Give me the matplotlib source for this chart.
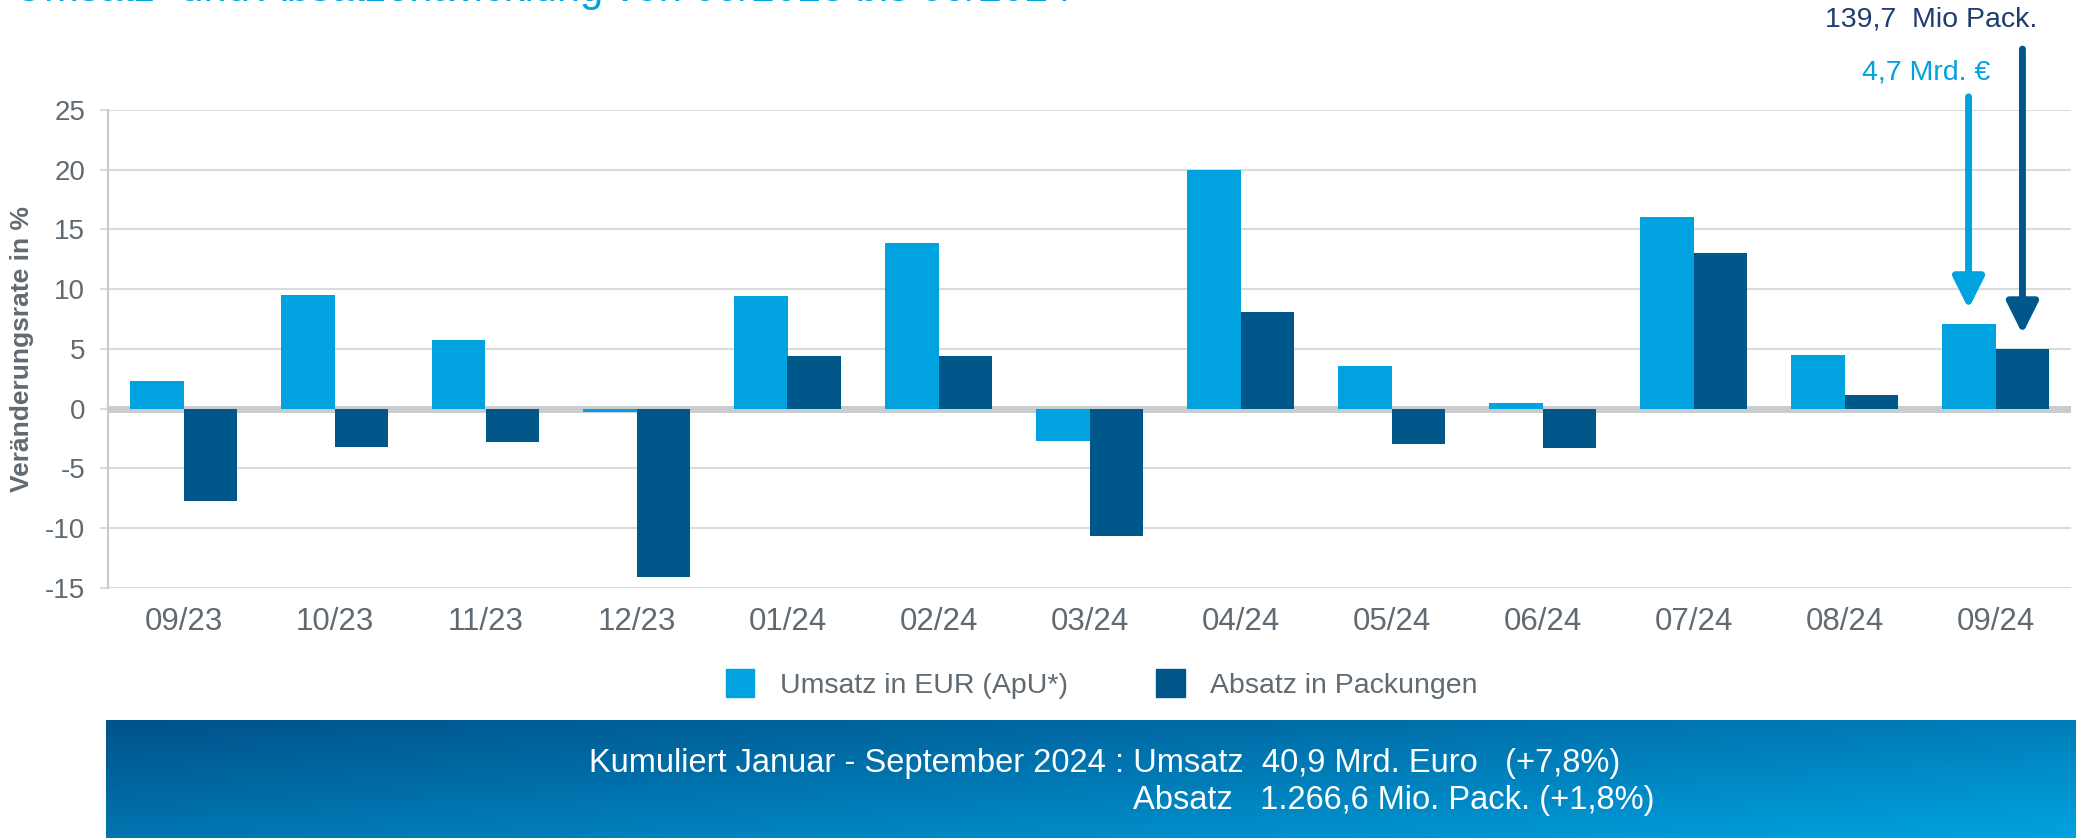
import numpy as np
import matplotlib
matplotlib.use("Agg")
import matplotlib.pyplot as plt
from matplotlib.colors import LinearSegmentedColormap
from matplotlib.patches import Patch

plt.rcParams["font.family"] = ["Liberation Sans", "DejaVu Sans"]

# data
months = ["09/23", "10/23", "11/23", "12/23", "01/24", "02/24", "03/24",
          "04/24", "05/24", "06/24", "07/24", "08/24", "09/24"]
umsatz = [2.3, 9.5, 5.7, -0.3, 9.4, 13.9, -2.7, 20.0, 3.6, 0.5, 16.0, 4.5, 7.1]
absatz = [-7.7, -3.2, -2.8, -14.1, 4.4, 4.4, -10.7, 8.1, -3.0, -3.3, 13.0, 1.1, 5.0]
yticks = [-15, -10, -5, 0, 5, 10, 15, 20, 25]

LIGHT = "#00a3e0"
DARK = "#00578a"
GREY_TXT = "#5f6a72"
GRID = "#d9dbdc"

W, H = 2076, 838
fig = plt.figure(figsize=(W / 100, H / 100), dpi=100)
ax = fig.add_axes([108 / W, (H - 587.7) / H, (2071 - 108) / W, (587.7 - 110) / H])

x = np.arange(len(months))
bw = 0.357
ax.bar(x - bw / 2, umsatz, width=bw, color=LIGHT, zorder=3)
ax.bar(x + bw / 2, absatz, width=bw, color=DARK, zorder=3)
ax.axhline(0, color="#c9cccf", lw=5, zorder=2)

ax.set_xlim(-0.5, len(months) - 0.5)
ax.set_ylim(-15, 25)
ax.set_yticks(yticks)
ax.set_yticklabels([str(v) for v in yticks], fontsize=20, color=GREY_TXT)
ax.set_xticks(x)
ax.set_xticklabels(months, fontsize=22.5, color=GREY_TXT)
ax.tick_params(axis="x", length=0, pad=14)
ax.tick_params(axis="y", length=6, width=1.5, color=GRID, pad=10.5)
ax.grid(axis="y", color=GRID, lw=1.5, zorder=0)
for s in ["top", "right", "bottom"]:
    ax.spines[s].set_visible(False)
ax.spines["left"].set_color("#c8cacc")
ax.spines["left"].set_linewidth(1.5)
ax.set_ylabel("Veränderungsrate in %", fontsize=19, fontweight="bold", color=GREY_TXT)
ax.yaxis.set_label_coords(-74 / (2071 - 108), 0.5)

# arrows pointing to latest month
last = len(months) - 1
ax.annotate("", xy=(last - bw / 2, umsatz[-1] + 1.25), xytext=(last - bw / 2, 26.1),
            arrowprops=dict(arrowstyle="-|>,head_length=1.0,head_width=0.5",
                            color=LIGHT, lw=5, mutation_scale=19,
                            shrinkA=0, shrinkB=0),
            annotation_clip=False)
ax.annotate("", xy=(last + bw / 2, absatz[-1] + 1.25), xytext=(last + bw / 2, 30.1),
            arrowprops=dict(arrowstyle="-|>,head_length=1.0,head_width=0.5",
                            color=DARK, lw=5, mutation_scale=19,
                            shrinkA=0, shrinkB=0),
            annotation_clip=False)
fig.text(1931 / W, 1 - 20 / H, "139,7  Mio Pack.", ha="center", va="center",
         fontsize=20.5, color="#1d3c70")
fig.text(1926.5 / W, 1 - 72.5 / H, "4,7 Mrd. €", ha="center", va="center",
         fontsize=20.5, color=LIGHT)

# title (cut off at the top in the reference)
fig.text(14 / W, 1 - 1.5 / H, "Umsatz- und Absatzentwicklung von 09/2023 bis 09/2024",
         ha="left", va="baseline", fontsize=30, color=LIGHT)

# legend
handles = [Patch(color=LIGHT, label="Umsatz in EUR (ApU*)"),
           Patch(color=DARK, label="Absatz in Packungen")]
leg = fig.legend(handles=handles, loc="center", bbox_to_anchor=(1102 / W, 1 - 684 / H),
                 ncol=2, frameon=False, fontsize=20.5, handlelength=1.0,
                 handleheight=1.1, handletextpad=0.9, columnspacing=3.1)
for t in leg.get_texts():
    t.set_color(GREY_TXT)

# gradient summary box
bax = fig.add_axes([106 / W, 0, 1 - 106 / W, 118 / H])
gx, gy = np.meshgrid(np.linspace(0, 1, 400), np.linspace(0, 1, 100))
grad = 0.55 * gx + 0.45 * gy
cmap = LinearSegmentedColormap.from_list("box", ["#00528a", "#0079b4", "#00a3e0"])
bax.imshow(grad, cmap=cmap, aspect="auto", extent=[0, 1, 0, 1], origin="upper")
bax.axis("off")
fig.text(589 / W, 1 - 763 / H,
         "Kumuliert Januar - September 2024 : Umsatz  40,9 Mrd. Euro   (+7,8%)",
         ha="left", va="center", fontsize=23.5, color="white")
fig.text(1133 / W, 1 - 800 / H, "Absatz   1.266,6 Mio. Pack. (+1,8%)",
         ha="left", va="center", fontsize=23.5, color="white")

fig.savefig("out.png", dpi=100)
